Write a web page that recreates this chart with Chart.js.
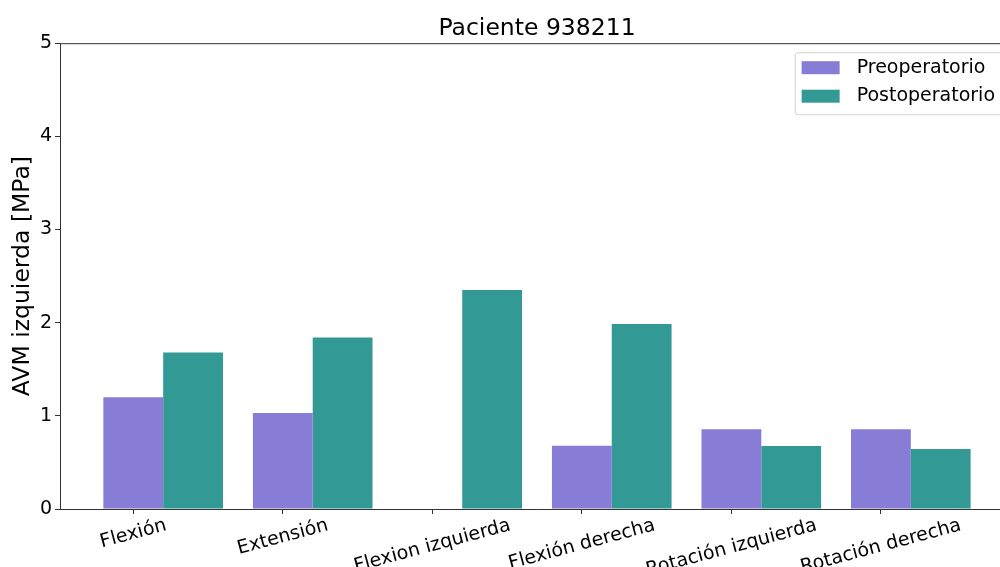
<!DOCTYPE html>
<html>
<head>
<meta charset="utf-8">
<script src="https://cdn.jsdelivr.net/npm/chart.js@4"></script>
<style>
  html, body { margin: 0; padding: 0; overflow: hidden; background: #fff; }
  #wrap { width: 1015px; height: 567px; }
</style>
</head>
<body>
<div id="wrap"><canvas id="avmChart" width="1015" height="567"></canvas></div>
<script>
// data
const categories = ["Flexión", "Extensión", "Flexion izquierda", "Flexión derecha", "Rotación izquierda", "Rotación derecha"];
const preValues  = [1.20, 1.03, 0, 0.68, 0.855, 0.855];
const postValues = [1.68, 1.84, 2.35, 1.985, 0.675, 0.645];
const yTicks = [0, 1, 2, 3, 4, 5];

const FONT = "'DejaVu Sans', sans-serif";
const PRE_COLOR = "#877cd6";
const POST_COLOR = "#339995";
const HALF_BAR = 0.2; // ticks sit under the first bar of each group

// top + right spine
const framePlugin = {
    id: "frame",
    afterDraw(chart) {
        const { ctx, chartArea } = chart;
        ctx.save();
        ctx.strokeStyle = "#333";
        ctx.lineWidth = 1;
        ctx.beginPath();
        ctx.moveTo(chartArea.left, chartArea.top + 0.5);
        ctx.lineTo(chartArea.right, chartArea.top + 0.5);
        ctx.lineTo(chartArea.right, chartArea.bottom);
        ctx.stroke();
        ctx.restore();
    }
};

// rotated category labels, centred on their tick like matplotlib
const xLabelPlugin = {
    id: "xLabels",
    afterDraw(chart) {
        const { ctx, chartArea } = chart;
        const xScale = chart.scales.x;
        const angle = 15 * Math.PI / 180;
        ctx.save();
        ctx.font = "19px " + FONT;
        ctx.fillStyle = "#000";
        ctx.textAlign = "center";
        ctx.textBaseline = "middle";
        categories.forEach((label, i) => {
            const w = ctx.measureText(label).width;
            const h = 22;
            const boxH = w * Math.sin(angle) + h * Math.cos(angle);
            const x = xScale.getPixelForValue(i - HALF_BAR);
            const y = chartArea.bottom + 5.5 + boxH / 2;
            ctx.save();
            ctx.translate(x, y);
            ctx.rotate(-angle);
            ctx.fillText(label, 0, 0);
            ctx.restore();
        });
        ctx.restore();
    }
};

// legend box in the upper right corner of the axes
const legendPlugin = {
    id: "boxLegend",
    afterDraw(chart) {
        const { ctx, chartArea } = chart;
        const items = chart.data.datasets.map(ds => ({ label: ds.label, color: ds.backgroundColor }));
        ctx.save();
        ctx.font = "19px " + FONT;
        const textW = Math.max(...items.map(it => ctx.measureText(it.label).width));
        const boxW = 7 + 38 + 17 + textW + 10;
        const boxH = 62;
        const right = chartArea.right - 9;
        const top = chartArea.top + 9;
        const left = right - boxW;

        ctx.fillStyle = "rgba(255,255,255,0.8)";
        ctx.strokeStyle = "#d0d0d0";
        ctx.lineWidth = 1;
        ctx.beginPath();
        ctx.roundRect(left + 0.5, top + 0.5, boxW, boxH, 3);
        ctx.fill();
        ctx.stroke();

        items.forEach((it, i) => {
            const cy = top + 15.5 + i * 28.5;
            ctx.fillStyle = it.color;
            ctx.fillRect(left + 7, cy - 6.5, 38, 13);
            ctx.fillStyle = "#000";
            ctx.textAlign = "left";
            ctx.textBaseline = "middle";
            ctx.fillText(it.label, left + 7 + 38 + 17, cy);
        });
        ctx.restore();
    }
};

const ctx = document.getElementById("avmChart").getContext("2d");
window.avmChartInstance = new Chart(ctx, {
    type: "bar",
    data: {
        datasets: [
            {
                label: "Preoperatorio",
                data: preValues.map((v, i) => ({ x: i, y: v })),
                backgroundColor: PRE_COLOR,
                borderWidth: 0
            },
            {
                label: "Postoperatorio",
                data: postValues.map((v, i) => ({ x: i, y: v })),
                backgroundColor: POST_COLOR,
                borderWidth: 0
            }
        ]
    },
    options: {
        responsive: false,
        animation: false,
        devicePixelRatio: 1,
        categoryPercentage: 0.8,
        barPercentage: 1.0,
        layout: { padding: { top: 0, right: 1, bottom: 0, left: 0 } },
        plugins: {
            legend: { display: false },
            tooltip: { enabled: false },
            title: {
                display: true,
                text: "Paciente 938211",
                fullSize: false,
                color: "#000",
                font: { family: FONT, size: 23.5, weight: "normal" },
                padding: { top: 15, bottom: 0 }
            }
        },
        scales: {
            x: {
                type: "linear",
                offset: false,
                min: -0.69,
                max: 5.69,
                afterBuildTicks(scale) {
                    scale.ticks = categories.map((c, i) => ({ value: i - HALF_BAR }));
                },
                afterFit(scale) { scale.height = 58; },
                ticks: { display: false },
                grid: { drawOnChartArea: false, drawTicks: true, tickLength: 5, color: "#333", offset: false },
                border: { display: true, color: "#333", width: 1 }
            },
            y: {
                min: 0,
                max: 5,
                afterBuildTicks(scale) {
                    scale.ticks = yTicks.map(v => ({ value: v }));
                },
                afterFit(scale) { scale.width = 60; },
                ticks: {
                    color: "#000",
                    padding: 3,
                    font: { family: FONT, size: 19 }
                },
                grid: { drawOnChartArea: false, drawTicks: true, tickLength: 5, color: "#333" },
                border: { display: true, color: "#333", width: 1 },
                title: {
                    display: true,
                    text: "AVM izquierda [MPa]",
                    color: "#000",
                    font: { family: FONT, size: 23.5 },
                    padding: { top: 9, bottom: 0 }
                }
            }
        }
    },
    plugins: [framePlugin, xLabelPlugin, legendPlugin]
});
</script>
</body>
</html>
